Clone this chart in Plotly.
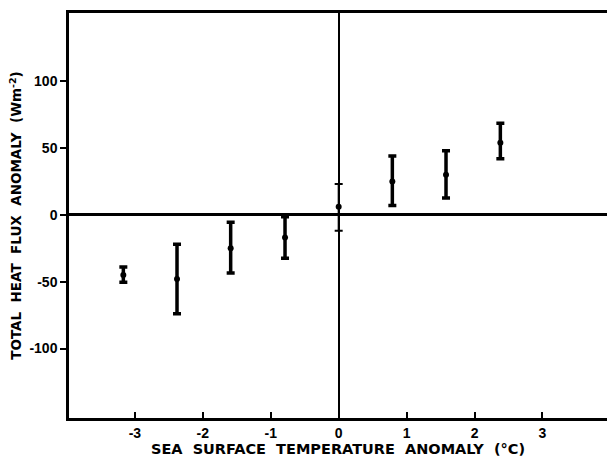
import plotly.graph_objects as go

# Data
sst_anomaly = [-3.17, -2.38, -1.59, -0.79, 0.0, 0.79, 1.58, 2.38]
flux_anomaly = [-45.0, -48.0, -25.0, -17.0, 6.0, 25.0, 30.0, 54.0]
err_plus = [6.0, 26.0, 19.5, 15.5, 17.0, 19.0, 18.0, 14.5]
err_minus = [5.5, 26.0, 18.5, 15.5, 18.0, 18.0, 17.5, 12.0]

x_ticks = [-3, -2, -1, 0, 1, 2, 3]
y_ticks = [-100, -50, 0, 50, 100]

x_title = "SEA SURFACE TEMPERATURE ANOMALY (°C)"
y_title = "TOTAL HEAT FLUX ANOMALY (Wm<sup>-2</sup>)"

FONT = "Liberation Sans"
GAP = "\u00a0\u00a0"

# split: the point at x = 0 sits on the vertical axis and is drawn with thin bars
idx_main = [i for i, v in enumerate(sst_anomaly) if v != 0]
idx_zero = [i for i, v in enumerate(sst_anomaly) if v == 0]

def pick(arr, idx):
    return [arr[i] for i in idx]

fig = go.Figure()
fig.add_trace(go.Scatter(
    x=pick(sst_anomaly, idx_main), y=pick(flux_anomaly, idx_main),
    mode="markers",
    marker=dict(color="black", size=6),
    error_y=dict(type="data", symmetric=False,
                 array=pick(err_plus, idx_main), arrayminus=pick(err_minus, idx_main),
                 color="black", thickness=3.5, width=4),
    showlegend=False,
))
fig.add_trace(go.Scatter(
    x=pick(sst_anomaly, idx_zero), y=pick(flux_anomaly, idx_zero),
    mode="markers",
    marker=dict(color="black", size=6),
    error_y=dict(type="data", symmetric=False,
                 array=pick(err_plus, idx_zero), arrayminus=pick(err_minus, idx_zero),
                 color="black", thickness=2, width=4),
    showlegend=False,
))

fig.update_layout(
    width=607, height=458,
    margin=dict(l=69, r=0, t=13, b=40),
    paper_bgcolor="white", plot_bgcolor="white",
    font=dict(family=FONT, color="black"),
)
fig.update_xaxes(
    range=[-3.97, 3.95],
    tickvals=x_ticks, ticktext=[str(t) for t in x_ticks],
    ticks="inside", ticklen=6, tickwidth=2, tickcolor="black",
    showline=True, linecolor="black", linewidth=2.5, mirror=True,
    showgrid=False,
    zeroline=True, zerolinecolor="black", zerolinewidth=2,
    tickfont=dict(family=FONT, size=14, weight="bold"),
    title=dict(text=x_title.replace(" ", GAP),
               font=dict(family="DejaVu Sans", size=14.5, weight="bold"),
               standoff=2),
)
fig.update_yaxes(
    range=[-152, 151],
    tickvals=y_ticks, ticktext=[str(t) for t in y_ticks],
    ticks="outside", ticklen=6, tickwidth=2, tickcolor="black",
    showline=True, linecolor="black", linewidth=2.5, mirror=False,
    showgrid=False,
    zeroline=True, zerolinecolor="black", zerolinewidth=3,
    tickfont=dict(family=FONT, size=14, weight="bold"),
    title=dict(text=y_title.replace(" ", GAP),
               font=dict(family="DejaVu Sans", size=13.5, weight="bold"),
               standoff=5),
)

fig.write_html("out.html")
